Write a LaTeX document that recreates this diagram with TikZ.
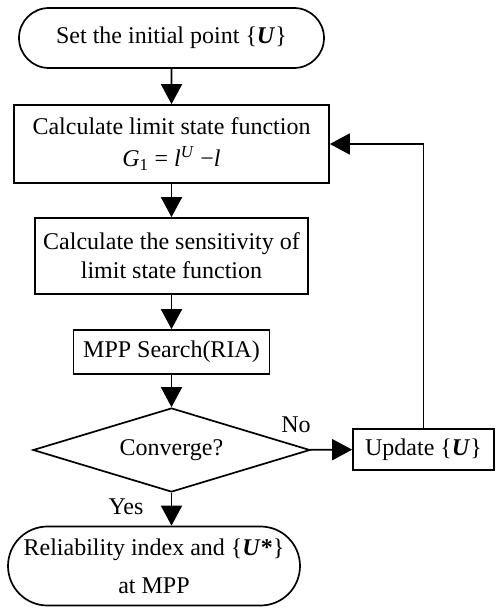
\documentclass[tikz,border=0pt]{standalone}
\usepackage{fontspec}
\setmainfont{Liberation Serif}
\usetikzlibrary{arrows.meta,shapes.geometric,shapes.misc}

\begin{document}
\begin{tikzpicture}
[x=1pt,y=-1pt,
  lineDecorate/.style={-{Triangle[length=20pt,width=21pt]},line width=1.8pt},
  boxDecorate/.style={shape=rectangle,draw,line width=1.7pt,align=center,inner sep=0pt},
  termDecorate/.style={shape=rounded rectangle,draw,line width=1.7pt,align=center,inner sep=0pt},
  choiceDecorate/.style={shape=diamond,draw,line width=1.7pt,inner sep=0pt,aspect=3.3}]
\fontsize{24}{29}\selectfont
\useasboundingbox (0,0) rectangle (495,610);
%% nodes
\node (start) at (171.5,38) [termDecorate,minimum width=305pt,minimum height=60pt]
  {Set the initial point \{\textbf{\textit{U}}\}};
\node (calc) at (171.5,144) [boxDecorate,minimum width=315pt,minimum height=78pt]
  {Calculate limit state function\\[3pt]
   \textit{G}\textsubscript{1} = \textit{l}\textsuperscript{\textit{U}} −\textit{l}};
\node (sens) at (171.5,256) [boxDecorate,minimum width=273pt,minimum height=76pt]
  {Calculate the sensitivity of\\limit state function};
\node (mpp) at (171.5,352) [boxDecorate,minimum width=196pt,minimum height=44pt]
  {MPP Search(RIA)};
\node (conv) at (171.5,450) [choiceDecorate,minimum width=277pt,minimum height=84pt]
  {Converge?};
\node (upd) at (423.5,449.5) [boxDecorate,minimum width=141pt,minimum height=41pt]
  {Update \{\textbf{\textit{U}}\}};
\node (stop) at (154,566) [termDecorate,minimum width=292pt,minimum height=79pt]
  {Reliability index and \{\textbf{\textit{U}*}\}\\[9pt]at MPP};
%% labels
\node (no) at (296,425) {No};
\node (yes) at (126,507) {Yes};
%% edges
\path
\foreach \startnode/\endnode in {start/calc, calc/sens, sens/mpp, mpp/conv, conv/upd}
{
  (\startnode) edge[lineDecorate] (\endnode)
};
\draw[lineDecorate] (conv.south) -- (conv.south |- stop.north);
\draw[lineDecorate] (upd.north) |- (calc.east);
\end{tikzpicture}
\end{document}
